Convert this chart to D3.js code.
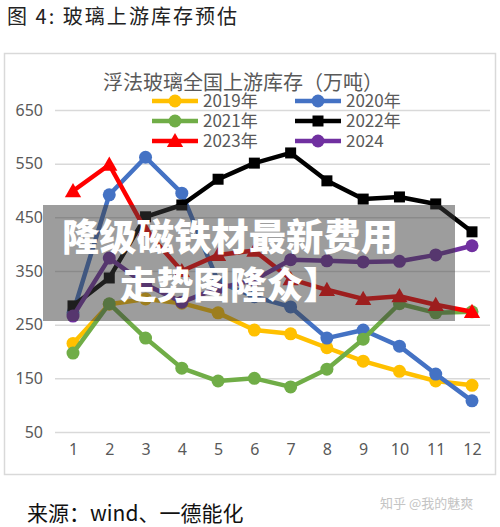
<!DOCTYPE html>
<html>
<head>
<meta charset="utf-8">
<script src="https://cdn.jsdelivr.net/npm/d3@7"></script>
<style>
  body { margin: 0; background: #fff; }
  svg { display: block; }
  text { font-family: "Noto Sans CJK SC", "Noto Sans", sans-serif; }
</style>
</head>
<body>
<script>
const months = [1,2,3,4,5,6,7,8,9,10,11,12];
const yTicks = [50,150,250,350,450,550,650];
const seriesNames = ["2019年","2020年","2021年","2022年","2023年","2024"];
const v2019 = [215, 288, 298, 290, 272, 240, 233, 207, 182, 163, 145, 137];
const v2020 = [272, 492, 562, 495, 330, 302, 283, 225, 240, 210, 158, 108];
const v2021 = [197, 289, 225, 169, 145, 150, 134, 167, 223, 289, 272, 274];
const v2022 = [285, 337, 451, 473, 521, 551, 570, 518, 484, 488, 475, 423];
const v2023 = [499, 548, 426, 350, 380, 388, 335, 315, 298, 303, 287, 274];
const v2024 = [266, 374, 325, 292, 318, 333, 371, 369, 367, 368, 380, 397];
const colors = ["#FFC000","#4472C4","#70AD47","#000000","#FF0000","#7030A0"];
const shapes = ["circle","circle","circle","square","triangle","circle"];
const allValues = [v2019, v2020, v2021, v2022, v2023, v2024];

const W = 500, H = 527;
const svg = d3.select("body").append("svg").attr("width", W).attr("height", H);

// header title
svg.append("text").attr("x", 7).attr("y", 24)
  .attr("font-size", 20).attr("fill", "#222")
  .attr("textLength", 230).attr("lengthAdjust", "spacing")
  .text("图 4:  玻璃上游库存预估");

// chart frame
svg.append("rect").attr("x", 4.5).attr("y", 53.5).attr("width", 491).attr("height", 421)
  .attr("fill", "#fff").attr("stroke", "#d9d9d9").attr("stroke-width", 1.5);

const x = d3.scalePoint().domain(months).range([73, 472]);
const y = d3.scaleLinear().domain([50, 650]).range([432, 110]);

// gridlines
const yAxis = d3.axisLeft(y).tickValues(yTicks).tickSize(-435).tickPadding(12);
const gy = svg.append("g").attr("transform", "translate(55,0)").call(yAxis);
gy.select(".domain").remove();
gy.selectAll(".tick line").attr("stroke", "#d9d9d9").attr("stroke-width", 1.5);
gy.selectAll(".tick text").attr("font-size", 16).attr("fill", "#595959")
  .attr("x", -12).style("font-family", "'Noto Sans', sans-serif");

const xAxis = d3.axisBottom(x).tickSize(0).tickPadding(0);
const gx = svg.append("g").attr("transform", "translate(0,444)").call(xAxis);
gx.select(".domain").remove();
gx.selectAll(".tick text").attr("font-size", 16).attr("fill", "#595959")
  .attr("dy", "0.71em").style("font-family", "'Noto Sans', sans-serif");

// chart title
svg.append("text").attr("x", 243).attr("y", 90).attr("text-anchor", "middle")
  .attr("font-size", 20).attr("fill", "#595959")
  .text("浮法玻璃全国上游库存（万吨）");

function drawMarker(g, shape, cx, cy, color, size) {
  if (shape === "circle") {
    g.append("circle").attr("cx", cx).attr("cy", cy).attr("r", size).attr("fill", color);
  } else if (shape === "square") {
    g.append("rect").attr("x", cx - size).attr("y", cy - size)
      .attr("width", size * 2).attr("height", size * 2).attr("fill", color);
  } else {
    const s = size * 1.25;
    g.append("path").attr("d", `M${cx},${cy - s}L${cx + s},${cy + s * 0.75}L${cx - s},${cy + s * 0.75}Z`)
      .attr("fill", color);
  }
}

const line = d3.line().x((d, i) => x(months[i])).y(d => y(d));
allValues.forEach((vals, k) => {
  const g = svg.append("g");
  g.append("path").datum(vals).attr("d", line)
    .attr("fill", "none").attr("stroke", colors[k]).attr("stroke-width", 4.5)
    .attr("stroke-linejoin", "round");
  vals.forEach((v, i) => drawMarker(g, shapes[k], x(months[i]), y(v), colors[k], shapes[k] === "square" ? 5.5 : 6.5));
});

// legend
const legPos = [[152,101],[295,101],[152,121],[295,121],[152,141],[295,141]];
seriesNames.forEach((name, k) => {
  const [lx, ly] = legPos[k];
  const g = svg.append("g");
  g.append("line").attr("x1", lx).attr("x2", lx + 46).attr("y1", ly).attr("y2", ly)
    .attr("stroke", colors[k]).attr("stroke-width", 4.5);
  drawMarker(g, shapes[k], lx + 23, ly, colors[k], shapes[k] === "square" ? 5.5 : 6.5);
  g.append("text").attr("x", lx + 51).attr("y", ly + 6).attr("font-size", 17)
    .attr("fill", "#595959").text(name);
});

// overlay banner
svg.append("rect").attr("x", 43).attr("y", 205).attr("width", 412).attr("height", 116)
  .attr("fill", "rgba(60,60,60,0.5)");
svg.append("text").attr("x", 62).attr("y", 251).attr("font-size", 37).attr("font-weight", 900)
  .attr("fill", "#fff").attr("textLength", 336).attr("lengthAdjust", "spacingAndGlyphs")
  .text("隆级磁铁材最新费用");
svg.append("text").attr("x", 120).attr("y", 299).attr("font-size", 37).attr("font-weight", 900)
  .attr("fill", "#fff").attr("textLength", 220).attr("lengthAdjust", "spacingAndGlyphs")
  .text("走势图隆众】");

// source
svg.append("text").attr("x", 27).attr("y", 521).attr("font-size", 21).attr("fill", "#111")
  .text("来源：wind、一德能化");
svg.append("text").attr("x", 380).attr("y", 508).attr("font-size", 13).attr("fill", "#c4c4c4")
  .text("知乎 @我的魅爽");
</script>
</body>
</html>
